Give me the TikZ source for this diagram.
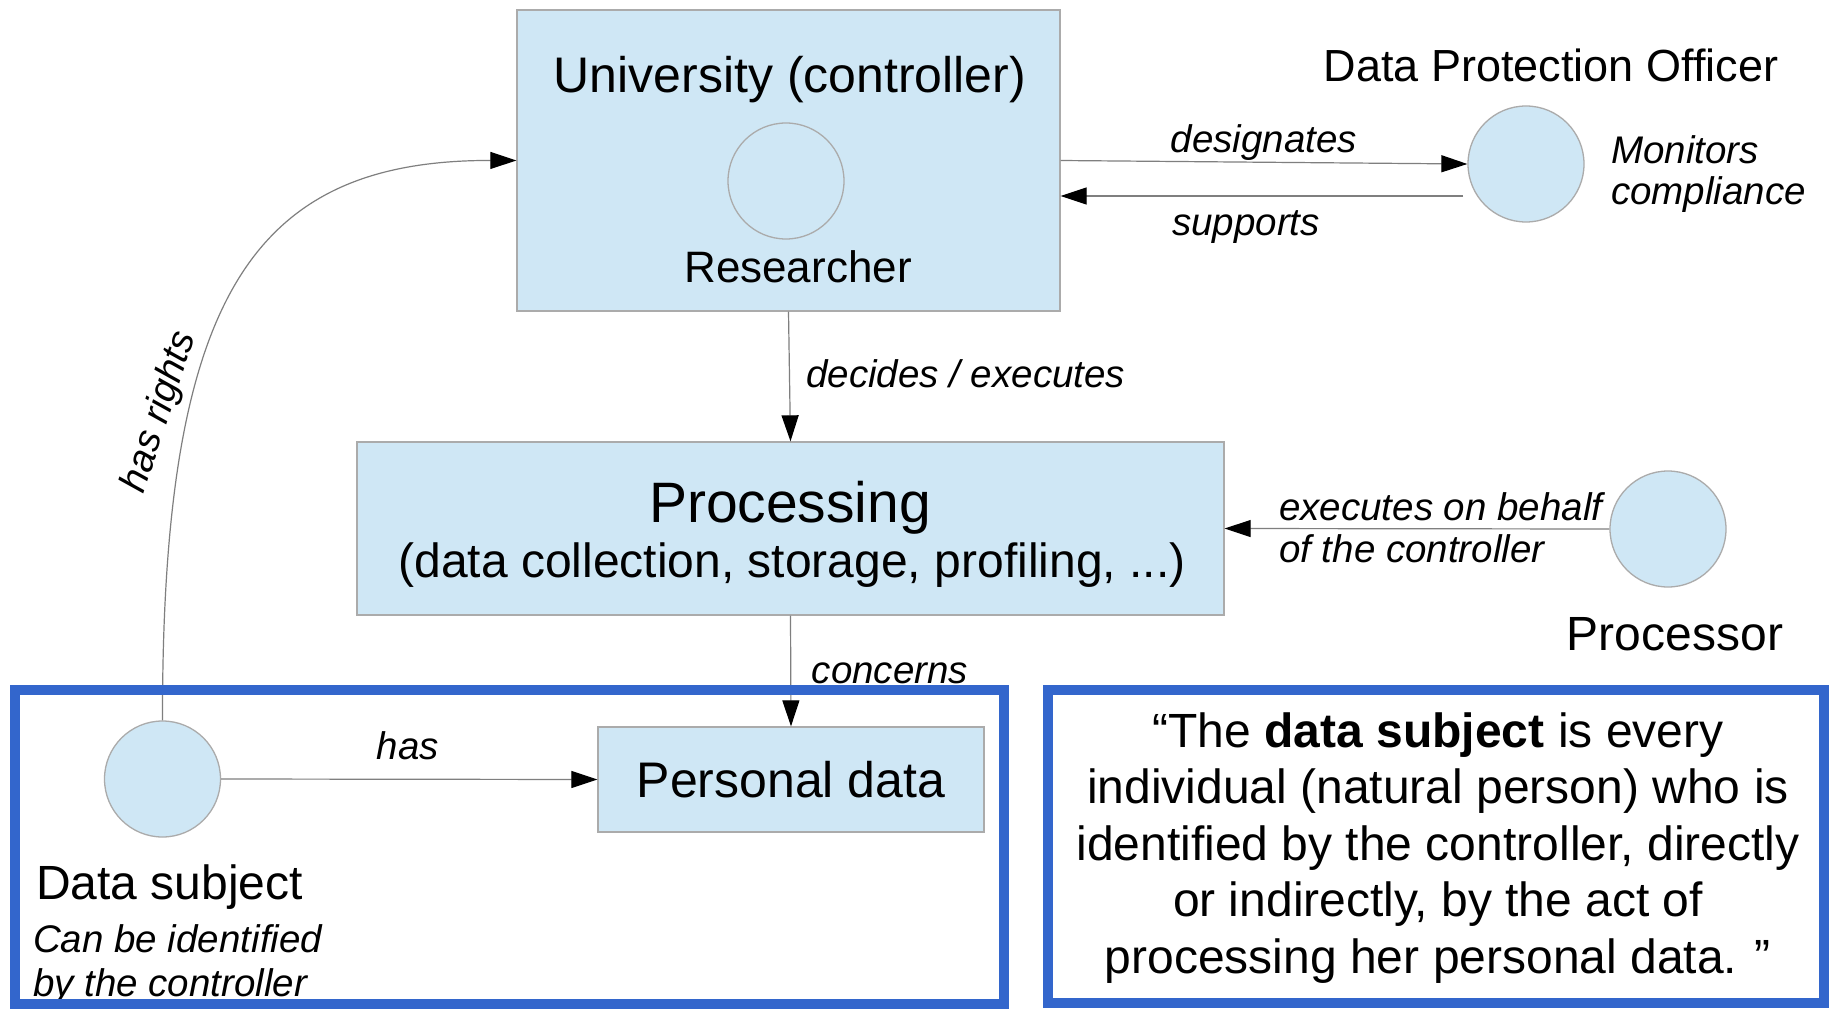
\documentclass[tikz,border=0pt]{standalone}
\usepackage{fontspec}
\setmainfont{Liberation Sans}
\usetikzlibrary{arrows.meta}
\definecolor{boxfill}{HTML}{CFE7F5}
\definecolor{boxline}{HTML}{ABABAB}
\definecolor{frameblue}{HTML}{3366CC}
\definecolor{connline}{HTML}{7F7F7F}
\begin{document}
\begin{tikzpicture}[x=1pt,y=-1pt,
  box/.style={draw=boxline,line width=1.3pt,fill=boxfill,inner sep=0pt},
  actor/.style={circle,draw=boxline,line width=1.3pt,fill=boxfill,minimum size=116pt,inner sep=0pt},
  conn/.style={draw=connline,line width=1.2pt,-{Triangle[length=26pt,width=17pt,color=black]}},
  txt/.style={inner sep=0pt,anchor=base,font=\fontsize{#1}{#1}\selectfont},
  lab/.style={inner sep=0pt,anchor=base,font=\itshape\fontsize{38.5}{41}\selectfont},
  labw/.style={lab,anchor=base west},
  frameline/.style={draw=frameblue,line width=10pt}]
\useasboundingbox (0,0) rectangle (1829,1011);
\fill[white] (0,0) rectangle (1829,1011);

% boxes
\node[box,minimum width=543pt,minimum height=301pt] (univ) at (788.5,160.5) {};
\node[box,minimum width=867pt,minimum height=173pt] (proc) at (790.5,528.5) {};
\node[box,minimum width=386pt,minimum height=105pt] (pers) at (791,779.5) {};

% actors
\node[actor] (res) at (786,181) {};
\node[actor] (dpo) at (1526,164) {};
\node[actor] (procr) at (1668,529) {};
\node[actor] (ds) at (162.5,779) {};

% texts
\node[txt=50] (univT) at (790,93) {University (controller)};
\node[txt=44] (resT) at (798,282) {Researcher};
\node[txt=45] (dpoT) at (1551,82) {Data Protection Officer};
\node[labw] (mon1) at (1611,164) {Monitors};
\node[labw] (mon2) at (1611,205) {compliance};
\node[txt=57] (procT) at (790,522) {Processing};
\node[txt=48] (procT2) at (792,577) {(data collection, storage, profiling, ...)};
\node[txt=48] (procrT) at (1675,650) {Processor};
\node[txt=50] (persT) at (791,797) {Personal data};
\node[txt=48,anchor=base west] (dsT) at (36,899) {Data subject};
\node[labw] (ds1) at (33,952) {Can be identified};
\node[labw] (ds2) at (33,996) {by the controller};

% connectors
\coordinate (supS) at (1463,196);
\draw[conn] (univ.east) -- (dpo.west);
\draw[conn] (supS) -- (univ.east |- supS);
\draw[conn] (univ.south) -- (proc.north);
\draw[conn] (procr.west) -- (proc.east);
\draw[conn] (proc.south) -- (pers.north);
\draw[conn] (ds.east) -- (pers.west);
\draw[conn] (ds.north) .. controls (162,300) and (250,160) .. (univ.west);

% connector labels
\node[lab] (lDes) at (1264,153) {designates};
\node[lab] (lSup) at (1246,236) {supports};
\node[labw] (lDec) at (806,387) {decides / executes};
\node[labw] (lEx1) at (1279,520) {executes on behalf};
\node[labw] (lEx2) at (1279,562) {of the controller};
\node[lab] (lCon) at (890,683) {concerns};
\node[lab] (lHas) at (408,759) {has};
\node[inner sep=0pt,font=\itshape\fontsize{38.5}{41}\selectfont,rotate=72] (lRig) at (160,412) {has rights};

% frames
\draw[frameline] (15,690) rectangle (1004,1004);
\draw[frameline] (1048,690) rectangle (1824,1003);

% quote
\node[txt=48] (q1) at (1438,747) {“The \textbf{data subject} is every};
\node[txt=48] (q2) at (1438,803.5) {individual (natural person) who is};
\node[txt=48] (q3) at (1438,860) {identified by the controller, directly};
\node[txt=48] (q4) at (1438,916.5) {or indirectly, by the act of};
\node[txt=48] (q5) at (1438,973) {processing her personal data. ”};
\end{tikzpicture}
\end{document}
